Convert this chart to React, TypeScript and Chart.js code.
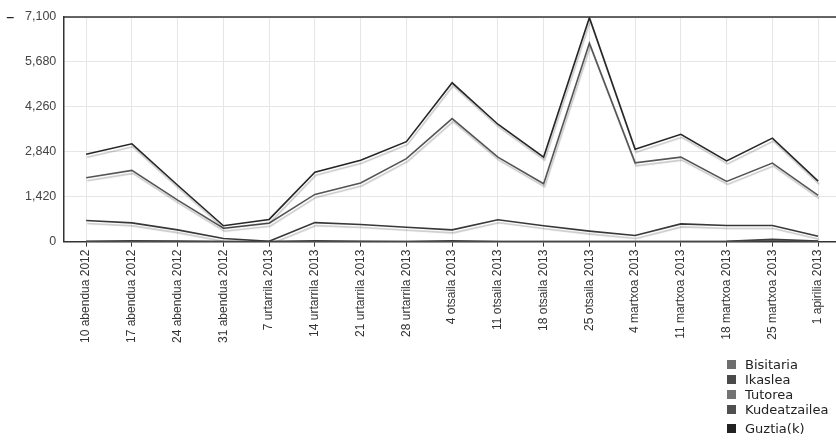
import React, { useEffect, useRef } from 'react';
import { Chart, registerables } from 'chart.js';

Chart.register(...registerables);

const labels = [
  '10 abendua 2012', '17 abendua 2012', '24 abendua 2012', '31 abendua 2012',
  '7 urtarrila 2013', '14 urtarrila 2013', '21 urtarrila 2013', '28 urtarrila 2013',
  '4 otsaila 2013', '11 otsaila 2013', '18 otsaila 2013', '25 otsaila 2013',
  '4 martxoa 2013', '11 martxoa 2013', '18 martxoa 2013', '25 martxoa 2013',
  '1 apirilia 2013',
];

const bisitaria = [0, 0, 0, 0, 0, 0, 0, 0, 0, 0, 0, 0, 0, 0, 0, 40, 10];
const ikaslea = [2020, 2250, 1310, 420, 580, 1490, 1850, 2620, 3890, 2670, 1830, 6270, 2490, 2670, 1900, 2480, 1460];
const tutorea = [665, 590, 370, 95, 10, 600, 540, 455, 370, 690, 500, 330, 190, 560, 510, 510, 170];
const kudeatzailea = [5, 25, 20, 0, 0, 25, 5, 0, 25, 0, 0, 0, 0, 0, 10, 70, 20];
const guztia = [2760, 3090, 1780, 500, 700, 2190, 2570, 3160, 5020, 3710, 2670, 7080, 2920, 3390, 2550, 3270, 1910];

const yTicks = [0, 1420, 2840, 4260, 5680, 7100];

const seriesNames = ['Bisitaria', 'Ikaslea', 'Tutorea', 'Kudeatzailea', 'Guztia(k)'];
const seriesData = [bisitaria, ikaslea, tutorea, kudeatzailea, guztia];
const swatchColors = ['#6e6e6e', '#4a4a4a', '#737373', '#505050', '#222222'];
const lineColors = ['#6e6e6e', '#555555', '#383838', '#404040', '#262626'];

const FONT = '"DejaVu Sans", "Liberation Sans", Arial, sans-serif';
const AXIS_FONT = '"Liberation Sans", Arial, sans-serif';

const shadowPlugin = {
  id: 'lineShadow',
  beforeDatasetDraw(chart: any) {
    const ctx = chart.ctx;
    ctx.save();
    ctx.shadowColor = 'rgba(0,0,0,0.22)';
    ctx.shadowOffsetX = 1;
    ctx.shadowOffsetY = 3;
    ctx.shadowBlur = 1;
  },
  afterDatasetDraw(chart: any) {
    chart.ctx.restore();
  },
};

const topBorderPlugin = {
  id: 'topBorder',
  afterDraw(chart: any) {
    const { ctx, chartArea } = chart;
    ctx.save();
    ctx.strokeStyle = '#333333';
    ctx.lineWidth = 1.5;
    ctx.beginPath();
    ctx.moveTo(chartArea.left, chartArea.top);
    ctx.lineTo(chartArea.right, chartArea.top);
    ctx.stroke();
    ctx.restore();
  },
};

export default function App() {
  const canvasRef = useRef<HTMLCanvasElement | null>(null);

  useEffect(() => {
    if (!canvasRef.current) return;
    const chart = new Chart(canvasRef.current, {
      type: 'line',
      data: {
        labels,
        datasets: seriesNames.map((name, i) => ({
          label: name,
          data: seriesData[i],
          borderColor: lineColors[i],
          backgroundColor: swatchColors[i],
          borderWidth: 1.6,
          pointRadius: 0,
          pointHoverRadius: 0,
          tension: 0,
          fill: false,
          order: seriesNames.length - i,
        })),
      },
      options: {
        animation: false,
        responsive: true,
        maintainAspectRatio: false,
        layout: { padding: { top: 17, left: 18, right: 1, bottom: 94 } },
        plugins: {
          legend: { display: false },
          tooltip: { enabled: false },
        },
        scales: {
          x: {
            offset: true,
            grid: {
              offset: false,
              color: '#e6e6e6',
              tickColor: '#333333',
              tickLength: 5,
              drawOnChartArea: true,
            },
            border: { color: '#333333', width: 1.5 },
            ticks: {
              autoSkip: false,
              maxRotation: 90,
              minRotation: 90,
              padding: 3,
              color: '#333333',
              font: { family: AXIS_FONT, size: 12 },
            },
          },
          y: {
            min: 0,
            max: 7100,
            afterBuildTicks: (axis: any) => {
              axis.ticks = yTicks.map((v) => ({ value: v }));
            },
            grid: { color: '#e6e6e6', drawTicks: false },
            border: { color: '#333333', width: 1.5 },
            ticks: {
              padding: 7,
              color: '#444444',
              font: { family: AXIS_FONT, size: 12.5 },
              callback: (v: any) => Number(v).toLocaleString('en-US'),
            },
          },
        },
      },
      plugins: [shadowPlugin, topBorderPlugin],
    });
    return () => chart.destroy();
  }, []);

  return (
    <div style={{ position: 'absolute', left: 0, top: 0, width: 836, height: 440, overflow: 'hidden', background: '#fff' }}>
      <div style={{ position: 'absolute', left: 0, top: 0, width: 842, height: 440 }}>
        <canvas ref={canvasRef} />
      </div>
      <span style={{ position: 'absolute', left: 6, top: 6, fontFamily: FONT, fontSize: 17, color: '#222' }}>–</span>
      <div style={{ position: 'absolute', left: 727, top: 357, fontFamily: FONT, fontSize: 13, color: '#222' }}>
        {seriesNames.map((name, i) => (
          <div key={name} style={{ display: 'flex', alignItems: 'center', height: 15, marginTop: i === seriesNames.length - 1 ? 4 : 0 }}>
            <span style={{ display: 'inline-block', width: 9, height: 9, background: swatchColors[i], marginRight: 9 }} />
            <span style={{ lineHeight: '15px' }}>{name}</span>
          </div>
        ))}
      </div>
    </div>
  );
}
